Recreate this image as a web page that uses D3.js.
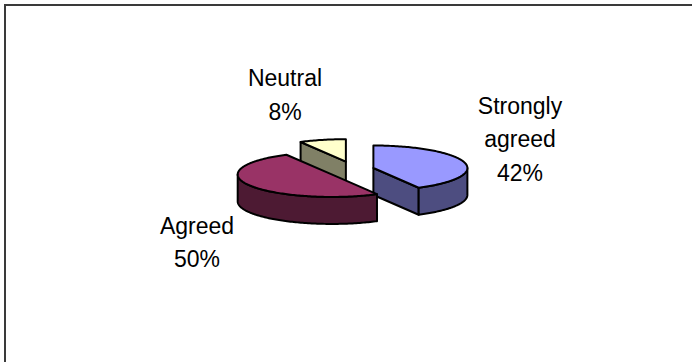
<!DOCTYPE html>
<html>
<head>
<meta charset="utf-8">
<script src="https://cdn.jsdelivr.net/npm/d3@7"></script>
<style>
  html, body { margin: 0; padding: 0; background: #fff; }
  svg { display: block; }
</style>
</head>
<body>
<svg id="chart" width="692" height="362"></svg>
<script>
// Survey responses
const categories = ["Strongly agreed", "Agreed", "Neutral"];
const values = [42, 50, 8];
const topColors = ["#9999FF", "#993366", "#FFFFCC"];
const sideColors = ["#4D4D80", "#4D1A33", "#808066"];

// Label placement: centre x and first baseline for each category's label block
const labelAnchors = [[520, 113.5], [197, 233.5], [285, 86]];
const labelLineHeight = 33.5;

const W = 692, H = 362;
const svg = d3.select("#chart");

// Frame
svg.append("rect")
  .attr("x", 5).attr("y", 5)
  .attr("width", W + 20).attr("height", H + 20)
  .attr("fill", "none")
  .attr("stroke", "#3a3a3a")
  .attr("stroke-width", 2);

// 3D pie geometry
const cx = 351.5, cy = 170.2;     // pie centre (top face)
const rx = 94, ry = 22.5;         // ellipse radii of the tilted disc
const depth = 27;                 // thickness of the disc
const explodeX = 22.6, explodeY = 8.8;

const total = d3.sum(values);
const pie = d3.pie().sort(null).value(d => d.value).startAngle(0).endAngle(2 * Math.PI);
const data = categories.map((c, i) => ({ category: c, value: values[i], i }));
const arcs = pie(data);

// projected point on a slice's rim at angle a (clockwise from 12 o'clock)
function rim(c, a, dz) {
  return [c[0] + rx * Math.sin(a), c[1] - ry * Math.cos(a) + (dz || 0)];
}
function arcPoints(c, a0, a1, dz) {
  const n = Math.max(2, Math.ceil(Math.abs(a1 - a0) / 0.02));
  return d3.range(n + 1).map(k => rim(c, a0 + (a1 - a0) * k / n, dz));
}
const line = d3.line();

const slices = arcs.map(a => {
  const mid = (a.startAngle + a.endAngle) / 2;
  const c = [cx + explodeX * Math.sin(mid), cy - explodeY * Math.cos(mid)];
  return { arc: a, c, mid };
});

// back slices first
const order = slices.slice().sort((p, q) => p.c[1] - q.c[1]);

const g = svg.append("g")
  .attr("stroke", "#000")
  .attr("stroke-width", 2)
  .attr("stroke-linejoin", "round");

order.forEach(s => {
  const { arc, c } = s;
  const i = arc.data.i;
  const a0 = arc.startAngle, a1 = arc.endAngle;
  const side = sideColors[i];

  // radial walls facing the viewer
  const walls = [];
  if (Math.sin(a0) < -1e-6) walls.push(a0);
  if (Math.sin(a1) > 1e-6) walls.push(a1);
  walls.forEach(a => {
    const p = rim(c, a);
    const pts = [c, p, [p[0], p[1] + depth], [c[0], c[1] + depth]];
    g.append("path").attr("d", line(pts) + "Z").attr("fill", side);
  });

  // outer wall on the front half of the rim
  const f0 = Math.max(a0, Math.PI / 2), f1 = Math.min(a1, 1.5 * Math.PI);
  if (f1 > f0) {
    const topEdge = arcPoints(c, f0, f1, 0);
    const botEdge = arcPoints(c, f1, f0, depth);
    g.append("path").attr("d", line(topEdge.concat(botEdge)) + "Z").attr("fill", side);
  }

  // top face
  const topPts = [c].concat(arcPoints(c, a0, a1, 0));
  g.append("path").attr("d", line(topPts) + "Z").attr("fill", topColors[i]);
});

// Data labels
const pct = d3.format(".0%");
arcs.forEach(a => {
  const i = a.data.i;
  const lines = a.data.category.split(" ").concat([pct(a.data.value / total)]);
  const [lx, ly] = labelAnchors[i];
  const t = svg.append("text")
    .attr("text-anchor", "middle")
    .attr("font-family", "'Liberation Sans', Arial, sans-serif")
    .attr("font-size", 23)
    .attr("fill", "#000");
  lines.forEach((ln, k) => {
    t.append("tspan").attr("x", lx).attr("y", ly + k * labelLineHeight).text(ln);
  });
});
</script>
</body>
</html>
